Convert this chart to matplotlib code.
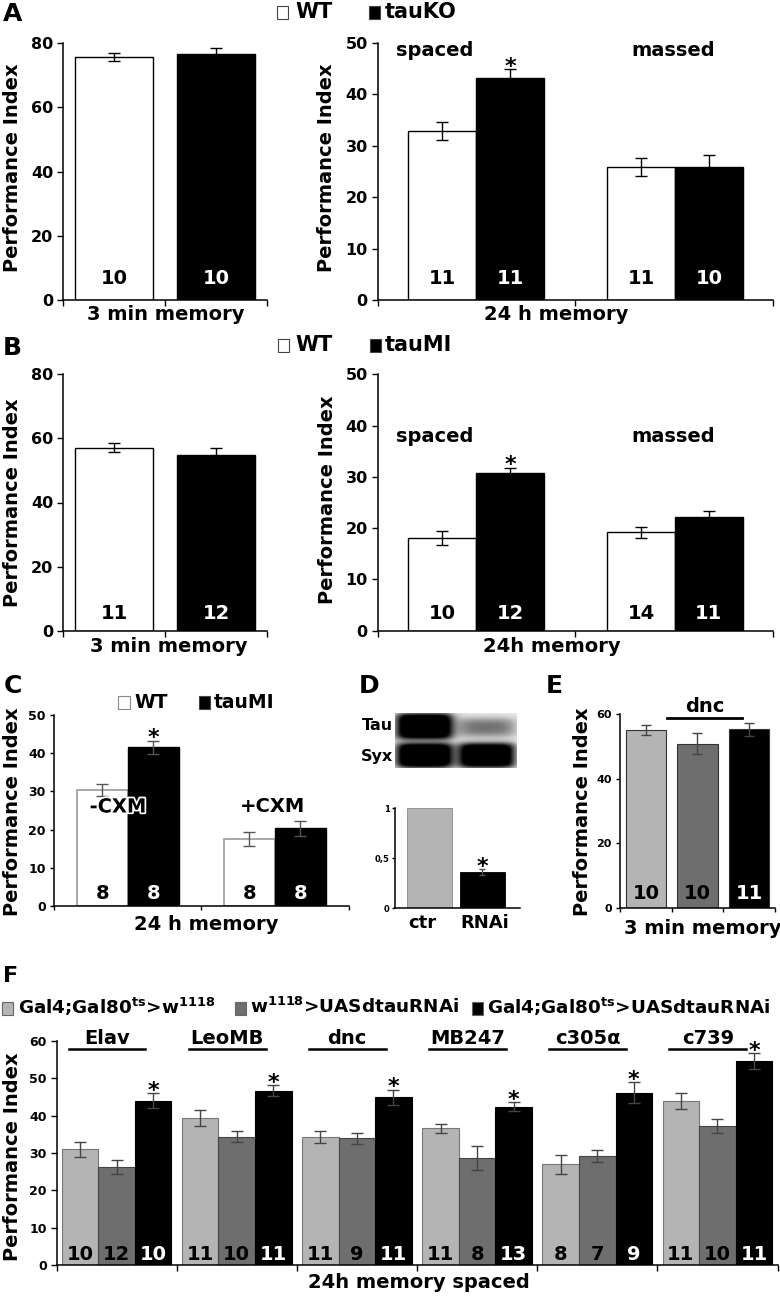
import numpy as np
import matplotlib
matplotlib.use('Agg')
import matplotlib.pyplot as plt
from matplotlib.patches import Rectangle
from matplotlib.lines import Line2D
from matplotlib.transforms import blended_transform_factory as btf
import matplotlib.patheffects as pe

plt.rcParams['font.family'] = ['DejaVu Sans']
plt.rcParams['font.weight'] = 'bold'
plt.rcParams['mathtext.fontset'] = 'dejavusans'
plt.rcParams['axes.linewidth'] = 1.1

# ---------------- data ----------------
genotypes_A = ['WT', 'tauKO']
A3_mean = [75.7, 76.6]
A3_err = [1.2, 1.7]
A3_n = [10, 10]
protocols = ['spaced', 'massed']
A24_wt_mean = [32.9, 25.9]
A24_wt_err = [1.7, 1.8]
A24_wt_n = [11, 11]
A24_ko_mean = [43.2, 25.9]
A24_ko_err = [1.7, 2.3]
A24_ko_n = [11, 10]
A24_sig = [True, False]

genotypes_B = ['WT', 'tauMI']
B3_mean = [57.1, 54.8]
B3_err = [1.4, 2.1]
B3_n = [11, 12]
B24_wt_mean = [18.1, 19.2]
B24_wt_err = [1.3, 1.1]
B24_wt_n = [10, 14]
B24_mi_mean = [30.8, 22.2]
B24_mi_err = [1.0, 1.2]
B24_mi_n = [12, 11]
B24_sig = [True, False]

treatments_C = ['-CXM', '+CXM']
C_wt_mean = [30.4, 17.5]
C_wt_err = [1.5, 1.9]
C_wt_n = [8, 8]
C_mi_mean = [41.5, 20.3]
C_mi_err = [1.7, 2.0]
C_mi_n = [8, 8]
C_sig = [True, False]

blot_proteins = ['Tau', 'Syx']
blot_lanes = ['ctr', 'RNAi']
blot_tau_level = [1.4, 0.55]
blot_syx_level = [1.4, 1.35]
D_mean = [1.0, 0.36]
D_err = [0.0, 0.03]
D_sig = [False, True]
D_ticks = [0, 0.5, 1]
D_ticklabels = ['0', '0,5', '1']

E_mean = [55.0, 50.8, 55.2]
E_err = [1.5, 3.3, 2.0]
E_n = [10, 10, 11]

F_lines = ['Elav', 'LeoMB', 'dnc', 'MB247', 'c305α', 'c739']
F_gal4 = [31.0, 39.3, 34.4, 36.6, 27.0, 43.9]
F_gal4_err = [2.0, 2.1, 1.6, 1.3, 2.5, 2.2]
F_gal4_n = [10, 11, 11, 11, 8, 11]
F_uas = [26.3, 34.4, 33.9, 28.6, 29.3, 37.2]
F_uas_err = [1.9, 1.5, 1.5, 3.2, 1.6, 1.8]
F_uas_n = [12, 10, 9, 8, 7, 10]
F_rnai = [44.0, 46.7, 44.9, 42.4, 46.2, 54.6]
F_rnai_err = [2.0, 1.5, 2.0, 1.2, 2.7, 2.1]
F_rnai_n = [10, 11, 11, 13, 9, 11]
F_legend = [r'Gal4;Gal80$^{\mathbf{ts}}$>w$^{\mathbf{1118}}$',
            r'w$^{\mathbf{1118}}$>UASdtauRNAi',
            r'Gal4;Gal80$^{\mathbf{ts}}$>UASdtauRNAi']

LIGHT = '#b4b4b4'
DARK = '#6e6e6e'
BLACK = '#000000'

# ---------------- helpers ----------------
W, H = 780, 1296
fig = plt.figure(figsize=(W / 100, H / 100), dpi=100)


def fx(x):
    return x / W


def fy(y):
    return 1 - y / H


def add_ax(l, t, r, b):
    ax = fig.add_axes([l / W, 1 - b / H, (r - l) / W, (b - t) / H])
    ax.patch.set_alpha(0)
    for s in ['top', 'right']:
        ax.spines[s].set_visible(False)
    return ax


def ftext(x, y, s, size=14, ha='center', va='center', **kw):
    return fig.text(fx(x), fy(y), s, ha=ha, va=va, fontsize=size, fontweight='bold', **kw)


def square(xc, yc, color, w=11, h=13, ec='#444444'):
    fig.add_artist(Rectangle((fx(xc - w / 2), fy(yc + h / 2)), w / W, h / H,
                             transform=fig.transFigure, facecolor=color,
                             edgecolor=ec, linewidth=0.8))


def style(ax, ylim, yticks, fs, xlim, xticks, tlen=4):
    ax.set_ylim(*ylim)
    ax.set_xlim(*xlim)
    ax.set_yticks(yticks)
    ax.set_xticks(xticks)
    ax.set_xticklabels([])
    ax.tick_params(axis='y', labelsize=fs, length=tlen, width=1, pad=3)
    ax.tick_params(axis='x', length=tlen, width=1)


def bars(ax, x, mean, err, width, fc, ec='black', lw=1.0, ecol='black', cap=8):
    ax.bar(x, mean, width, color=fc, edgecolor=ec, linewidth=lw, zorder=2)
    ax.errorbar(x, mean, yerr=err, fmt='none', ecolor=ecol, elinewidth=1,
                capsize=cap / 2, capthick=1, zorder=3)


def nlabels(ax, x, ns, yfrac, colors, size=14):
    tr = btf(ax.transData, ax.transAxes)
    for xi, n, c in zip(x, ns, colors):
        ax.text(xi, yfrac, str(n), transform=tr, ha='center', va='center',
                fontsize=size, fontweight='bold', color=c, zorder=4)


def star(ax, x, top, size=16, off=-2.5):
    ax.annotate('*', xy=(x, top), xytext=(0, off), textcoords='offset points',
                ha='center', va='baseline', fontsize=size, fontweight='bold',
                annotation_clip=False)


# ---------------- Panel A ----------------
ftext(12.5, 14, 'A', size=18)
square(282, 12, 'white')
ftext(295, 12, 'WT', size=15, ha='left')
square(374.5, 12, 'black')
ftext(385, 12, 'tauKO', size=15, ha='left')

ax = add_ax(63, 43, 267, 300)
style(ax, (0, 80), [0, 20, 40, 60, 80], 11.5, (0, 2), [0, 1, 2])
xa = np.array([0.5, 1.5])
bars(ax, xa, A3_mean, A3_err, 0.765, ['white', 'black'])
nlabels(ax, xa, A3_n, 0.082, ['black', 'white'])
ftext(12.5, 168, 'Performance Index', rotation=90)
ftext(166, 315, '3 min memory')

ax = add_ax(377.5, 43, 772.5, 300)
style(ax, (0, 50), [0, 10, 20, 30, 40, 50], 11.5, (0, 2), [0, 1, 2])
gc = np.array([0.5, 1.506])
bars(ax, gc - 0.172, A24_wt_mean, A24_wt_err, 0.343, 'white')
bars(ax, gc + 0.172, A24_ko_mean, A24_ko_err, 0.343, 'black')
nlabels(ax, gc - 0.172, A24_wt_n, 0.082, ['black'] * 2)
nlabels(ax, gc + 0.172, A24_ko_n, 0.082, ['white'] * 2)
for i, s in enumerate(A24_sig):
    if s:
        star(ax, gc[i] + 0.172, A24_ko_mean[i] + A24_ko_err[i])
ftext(435, 50, protocols[0])
ftext(673, 50, protocols[1])
ftext(327, 168, 'Performance Index', rotation=90)
ftext(556, 315, '24 h memory')

# ---------------- Panel B ----------------
ftext(12.5, 348, 'B', size=18)
square(283, 345, 'white')
ftext(295, 345, 'WT', size=15, ha='left')
square(375, 345, 'black')
ftext(385, 345, 'tauMI', size=15, ha='left')

ax = add_ax(63, 374.3, 267, 630.7)
style(ax, (0, 80), [0, 20, 40, 60, 80], 11.5, (0, 2), [0, 1, 2])
bars(ax, xa, B3_mean, B3_err, 0.765, ['white', 'black'])
nlabels(ax, xa, B3_n, 0.069, ['black', 'white'])
ftext(12.5, 503, 'Performance Index', rotation=90)
ftext(169, 646, '3 min memory')

ax = add_ax(377.5, 374.3, 772.5, 630.7)
style(ax, (0, 50), [0, 10, 20, 30, 40, 50], 11.5, (0, 2), [0, 1, 2])
bars(ax, gc - 0.172, B24_wt_mean, B24_wt_err, 0.343, 'white')
bars(ax, gc + 0.172, B24_mi_mean, B24_mi_err, 0.343, 'black')
nlabels(ax, gc - 0.172, B24_wt_n, 0.069, ['black'] * 2)
nlabels(ax, gc + 0.172, B24_mi_n, 0.069, ['white'] * 2)
for i, s in enumerate(B24_sig):
    if s:
        star(ax, gc[i] + 0.172, B24_mi_mean[i] + B24_mi_err[i])
ftext(435, 437, protocols[0])
ftext(673, 437, protocols[1])
ftext(327.5, 500, 'Performance Index', rotation=90)
ftext(552, 646, '24h memory')

# ---------------- Panel C ----------------
ftext(12.5, 686, 'C', size=18)
square(124, 702, 'white', ec='#888888')
ftext(134, 702, 'WT', size=13.5, ha='left')
square(204, 702, 'black')
ftext(213.5, 702, 'tauMI', size=13.5, ha='left')

ax = add_ax(54, 715, 348.5, 906)
style(ax, (0, 50), [0, 10, 20, 30, 40, 50], 9, (0, 2), [0, 1, 2], tlen=3)
gcc = np.array([0.5, 1.5])
bars(ax, gcc - 0.1735, C_wt_mean, C_wt_err, 0.347, 'white', ec='#999999', lw=1.2, ecol='#555555')
bars(ax, gcc + 0.1735, C_mi_mean, C_mi_err, 0.347, 'black', ecol='#555555')
nlabels(ax, gcc - 0.1735, C_wt_n, 0.063, ['black'] * 2)
nlabels(ax, gcc + 0.1735, C_mi_n, 0.063, ['white'] * 2)
for i, s in enumerate(C_sig):
    if s:
        star(ax, gcc[i] + 0.1735, C_mi_mean[i] + C_mi_err[i])
t = ftext(118, 807, treatments_C[0], color='black', zorder=10)
t.set_path_effects([pe.withStroke(linewidth=2.5, foreground='white')])
ftext(272.5, 807, treatments_C[1])
ftext(12.5, 812, 'Performance Index', rotation=90)
ftext(206, 925, '24 h memory')

# ---------------- Panel D ----------------
ftext(369, 686, 'D', size=18)
axb = fig.add_axes([fx(395), fy(768), (517 - 395) / W, (768 - 713) / H])
ny, nx = 110, 244
yy, xx = np.mgrid[0:ny, 0:nx]
yy = yy / ny
xx = xx / nx


def sig(z):
    return 1 / (1 + np.exp(-z))


def band(x0, x1, y0, y1, s=0.02):
    return sig((xx - x0) / s) * sig((x1 - xx) / s) * sig((yy - y0) / s) * sig((y1 - yy) / s)


lane_x = [(0.02, 0.46), (0.53, 0.97)]
dark = np.zeros_like(xx)
for (x0, x1), lv in zip(lane_x, blot_tau_level):
    if lv > 1:
        dark += lv * band(x0, x1, 0.03, 0.47, s=0.03)
    else:
        dark += lv * band(x0, x1, 0.12, 0.42, s=0.04)
for (x0, x1), lv in zip(lane_x, blot_syx_level):
    dark += lv * band(x0, x1, 0.56, 0.98, s=0.03)
img = np.clip(0.93 - 0.93 * np.clip(dark, 0, 1.0), 0, 1)
axb.imshow(img, cmap='gray', vmin=0, vmax=1, aspect='auto', interpolation='bilinear')
axb.axis('off')
ftext(393, 725, blot_proteins[0], size=11.5, ha='right')
ftext(393, 756, blot_proteins[1], size=11.5, ha='right')

ax = add_ax(395, 808.3, 520, 908.3)
style(ax, (0, 1), D_ticks, 6, (-0.65, 1.71), [], tlen=2)
ax.set_yticklabels(D_ticklabels)
ax.tick_params(axis='y', pad=2)
xd = np.array([0, 1])
ax.bar(xd, D_mean, 0.84, color=[LIGHT, BLACK], edgecolor=['#888888', BLACK], linewidth=0.6, zorder=2)
ax.errorbar(xd[1:], D_mean[1:], yerr=D_err[1:], fmt='none', ecolor='#555555', elinewidth=1, capsize=2.5, zorder=3)
star(ax, 1, D_mean[1] + D_err[1])
ftext(422.5, 923, blot_lanes[0], size=13)
ftext(485, 923, blot_lanes[1], size=13)

# ---------------- Panel E ----------------
ftext(554, 686, 'E', size=18)
ax = add_ax(620, 714, 775, 907.7)
style(ax, (0, 60), [0, 20, 40, 60], 8, (-0.5, 2.5), [-0.5, 0.5, 1.5, 2.5], tlen=3)
xe = np.array([0, 1, 2])
ax.bar(xe, E_mean, 0.78, color=[LIGHT, DARK, BLACK], edgecolor='#333333', linewidth=0.8, zorder=2)
ax.errorbar(xe, E_mean, yerr=E_err, fmt='none', ecolor='#444444', elinewidth=1, capsize=3.5, zorder=3)
nlabels(ax, xe, E_n, 0.071, ['black', 'black', 'white'])
fig.add_artist(Line2D([fx(666.5), fx(741.5)], [fy(718.3), fy(718.3)], color='black', lw=2.0))
ftext(705, 716, 'dnc', va='bottom')
ftext(582.5, 812, 'Performance Index', rotation=90)
ftext(702.5, 928, '3 min memory')

# ---------------- Panel F ----------------
ftext(11, 976, 'F', size=16)
legx = [(7.5, 18), (240, 250), (478, 487)]
for (sx, tx), lab, col in zip(legx, F_legend, [LIGHT, DARK, BLACK]):
    square(sx, 1008.5, col, w=11, h=13, ec='#666666')
    ftext(tx, 1007, lab, size=13.2, ha='left')

ax = add_ax(56.5, 1041, 777.5, 1265)
style(ax, (0, 60), [0, 10, 20, 30, 40, 50, 60], 9, (-0.5, 5.5), np.arange(-0.5, 6, 1.0), tlen=4)
xf = np.arange(len(F_lines))
bw = 0.304
bars(ax, xf - bw, F_gal4, F_gal4_err, bw, LIGHT, ec='#777777', lw=0.8, ecol='#444444')
bars(ax, xf, F_uas, F_uas_err, bw, DARK, ec='#444444', lw=0.8, ecol='#444444')
bars(ax, xf + bw, F_rnai, F_rnai_err, bw, BLACK, ec='black', lw=0.8, ecol='#444444')
nlabels(ax, xf - bw, F_gal4_n, 0.045, ['black'] * 6)
nlabels(ax, xf, F_uas_n, 0.045, ['black'] * 6)
nlabels(ax, xf + bw, F_rnai_n, 0.045, ['white'] * 6)
trf = btf(ax.transData, ax.transAxes)
for i in range(len(F_lines)):
    star(ax, xf[i] + bw, F_rnai[i] + F_rnai_err[i])
    ax.plot([xf[i] - 0.08 - 0.32, xf[i] - 0.08 + 0.32], [0.964, 0.964], color='black', lw=1.8,
            transform=trf, clip_on=False)
    ax.text(xf[i] - 0.08, 0.968, F_lines[i], transform=trf,
            ha='center', va='bottom', fontsize=14, fontweight='bold')
ftext(12.5, 1157, 'Performance Index', rotation=90)
ftext(419, 1283, '24h memory spaced')

fig.savefig('out.png', dpi=100)
